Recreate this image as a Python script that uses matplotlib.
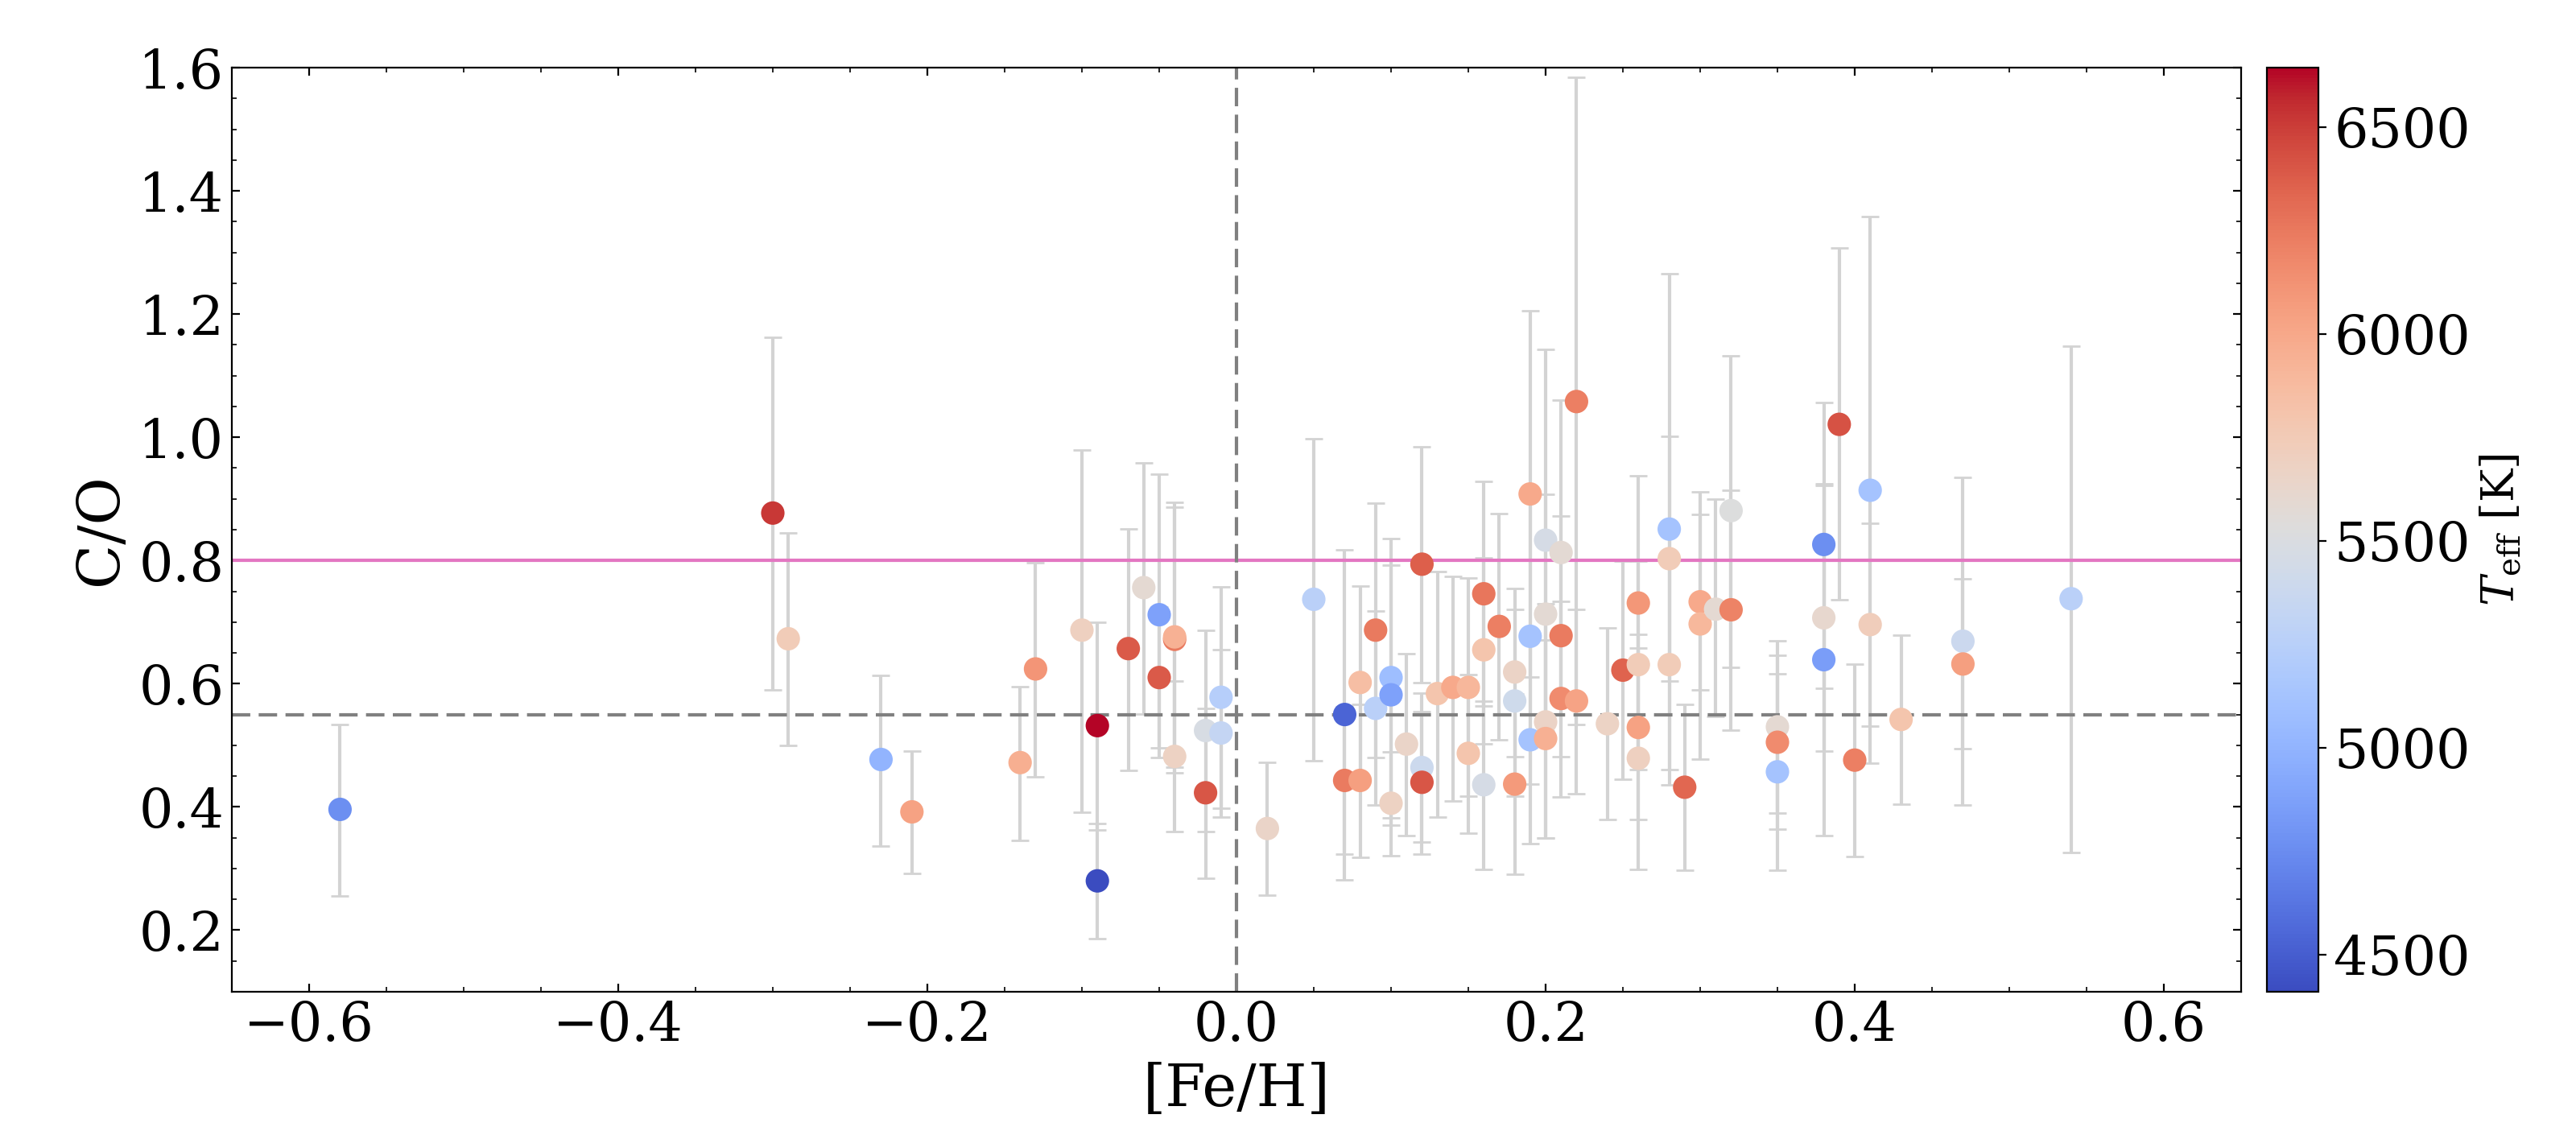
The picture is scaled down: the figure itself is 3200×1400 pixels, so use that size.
import numpy as np
import matplotlib
matplotlib.use("Agg")
import matplotlib.pyplot as plt
from matplotlib.ticker import MultipleLocator

plt.rcParams["font.family"] = "serif"
plt.rcParams["font.serif"] = ["DejaVu Serif"]
plt.rcParams["mathtext.fontset"] = "dejavuserif"

# [Fe/H], C/O, lower / upper C/O error, Teff [K]
feh = [-0.58, -0.30, -0.29, -0.23, -0.21, -0.14, -0.13, -0.10, -0.09, -0.09,
       -0.07, -0.06, -0.05, -0.05, -0.04, -0.04, -0.04, -0.02, -0.02, -0.01,
       -0.01, 0.02,
       0.05, 0.07, 0.07, 0.08, 0.08, 0.09, 0.09, 0.10, 0.10, 0.10,
       0.11, 0.12, 0.12, 0.12, 0.13, 0.14, 0.15, 0.15, 0.16, 0.16,
       0.16, 0.17, 0.18, 0.18, 0.18, 0.19, 0.19, 0.19, 0.20, 0.20,
       0.20, 0.20, 0.21, 0.21, 0.21, 0.22, 0.22, 0.24, 0.25, 0.26,
       0.26, 0.26, 0.26, 0.28, 0.28, 0.28, 0.29, 0.30, 0.30, 0.31,
       0.32, 0.32,
       0.35, 0.35, 0.35, 0.38, 0.38, 0.38, 0.39, 0.40, 0.41, 0.41,
       0.43, 0.47, 0.47, 0.54]
c_o = [0.396, 0.877, 0.673, 0.477, 0.392, 0.472, 0.624, 0.687, 0.532, 0.280,
       0.657, 0.756, 0.712, 0.610, 0.672, 0.676, 0.482, 0.524, 0.423, 0.578,
       0.520, 0.365,
       0.737, 0.550, 0.443, 0.602, 0.443, 0.687, 0.560, 0.610, 0.582, 0.406,
       0.502, 0.794, 0.464, 0.440, 0.584, 0.594, 0.594, 0.487, 0.746, 0.655,
       0.436, 0.693, 0.619, 0.572, 0.437, 0.908, 0.677, 0.509, 0.833, 0.713,
       0.538, 0.511, 0.813, 0.678, 0.576, 1.058, 0.572, 0.535, 0.622, 0.731,
       0.631, 0.529, 0.479, 0.851, 0.803, 0.631, 0.432, 0.733, 0.697, 0.721,
       0.881, 0.720,
       0.530, 0.505, 0.457, 0.826, 0.707, 0.639, 1.021, 0.476, 0.914, 0.696,
       0.542, 0.669, 0.632, 0.738]
err_lo = [0.140, 0.287, 0.173, 0.140, 0.100, 0.126, 0.175, 0.295, 0.169, 0.094,
          0.198, 0.205, 0.232, 0.114, 0.208, 0.220, 0.122, 0.164, 0.139, 0.180,
          0.136, 0.108,
          0.262, 0.268, 0.120, 0.157, 0.125, 0.207, 0.157, 0.228, 0.211, 0.085,
          0.148, 0.192, 0.121, 0.117, 0.201, 0.184, 0.176, 0.129, 0.182, 0.152,
          0.137, 0.184, 0.138, 0.154, 0.146, 0.297, 0.240, 0.169, 0.310, 0.194,
          0.189, 0.162, 0.247, 0.197, 0.160, 0.524, 0.151, 0.156, 0.177, 0.207,
          0.170, 0.150, 0.180, 0.415, 0.198, 0.170, 0.135, 0.143, 0.219, 0.174,
          0.254, 0.196,
          0.140, 0.141, 0.160, 0.233, 0.216, 0.285, 0.285, 0.157, 0.443, 0.165,
          0.138, 0.266, 0.138, 0.412]
err_hi = [0.138, 0.285, 0.172, 0.136, 0.099, 0.123, 0.173, 0.293, 0.168, 0.093,
          0.194, 0.203, 0.228, 0.114, 0.215, 0.218, 0.122, 0.163, 0.137, 0.179,
          0.135, 0.107,
          0.261, 0.267, 0.120, 0.157, 0.124, 0.206, 0.158, 0.225, 0.210, 0.083,
          0.147, 0.190, 0.121, 0.115, 0.198, 0.180, 0.177, 0.128, 0.182, 0.149,
          0.136, 0.183, 0.136, 0.148, 0.146, 0.297, 0.240, 0.169, 0.310, 0.194,
          0.192, 0.160, 0.247, 0.194, 0.158, 0.526, 0.148, 0.155, 0.177, 0.207,
          0.168, 0.151, 0.179, 0.415, 0.199, 0.170, 0.134, 0.179, 0.178, 0.178,
          0.251, 0.194,
          0.140, 0.141, 0.159, 0.231, 0.215, 0.285, 0.286, 0.156, 0.444, 0.164,
          0.137, 0.266, 0.138, 0.410]
teff = [4760, 6520, 5740, 5000, 6040, 5960, 6110, 5700, 6643, 4410,
        6390, 5590, 4880, 6390, 6250, 5940, 5680, 5480, 6400, 5230,
        5330, 5650,
        5260, 4540, 6240, 5850, 6050, 6250, 5260, 5080, 4880, 5680,
        5650, 6370, 5390, 6400, 5800, 5990, 5910, 5800, 6260, 5800,
        5460, 6220, 5660, 5410, 6080, 5990, 5120, 5120, 5460, 5580,
        5660, 5950, 5580, 6240, 6160, 6220, 6030, 5670, 6350, 6100,
        5740, 6040, 5700, 5120, 5740, 5740, 6330, 5990, 5900, 5590,
        5520, 6200,
        5590, 6160, 5120, 4760, 5620, 4850, 6420, 6220, 5120, 5720,
        5800, 5380, 6050, 5260]

co_solar = 0.55
co_carbon = 0.8

fig = plt.figure(figsize=(16, 7), dpi=200)
ax = fig.add_axes([0.09, 0.12, 0.78, 0.82])
cax = fig.add_axes([0.88, 0.12, 0.02, 0.82])

ax.errorbar(feh, c_o, yerr=[err_lo, err_hi], fmt="none", ecolor="lightgray",
            capsize=4, zorder=1)
ax.axhline(co_carbon, color="tab:pink", lw=1.5, zorder=2)
ax.axhline(co_solar, color="gray", lw=1.5, ls=(0, (5.5, 2.5)), zorder=2)
ax.axvline(0.0, color="gray", lw=1.5, ls=(0, (5.5, 2.5)), zorder=2)
sc = ax.scatter(feh, c_o, c=teff, cmap="coolwarm", s=90, zorder=3)

ax.set_xlim(-0.65, 0.65)
ax.set_ylim(0.1, 1.6)
ax.xaxis.set_major_locator(MultipleLocator(0.2))
ax.xaxis.set_minor_locator(MultipleLocator(0.05))
ax.yaxis.set_major_locator(MultipleLocator(0.2))
ax.yaxis.set_minor_locator(MultipleLocator(0.05))
ax.tick_params(which="both", direction="in", top=True, right=True, labelsize=24)
ax.set_xlabel("[Fe/H]", fontsize=26)
ax.set_ylabel("C/O", fontsize=26)

cb = fig.colorbar(sc, cax=cax)
cb.ax.tick_params(labelsize=24)
cb.set_label(r"$T_{\rm eff}$ [K]", fontsize=20)

fig.savefig("out.png", dpi=200)
